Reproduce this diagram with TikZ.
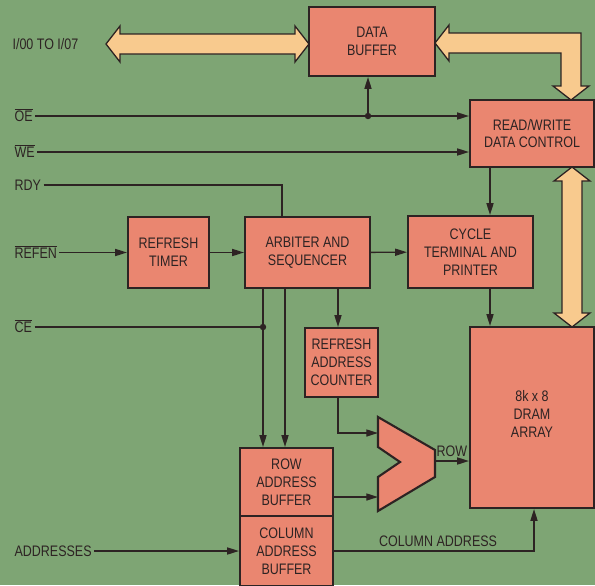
\documentclass[tikz,border=0pt]{standalone}
\usepackage{fontspec}
\setmainfont{Liberation Sans}[FakeStretch=0.82]
\usepackage{tikz}
\usetikzlibrary{arrows.meta, calc}

\definecolor{board}{RGB}{126,165,116}
\definecolor{chip}{RGB}{234,134,112}
\definecolor{busfill}{RGB}{248,202,142}
\definecolor{ink}{RGB}{45,35,35}
\newcommand{\barsig}[1]{$\overline{\mbox{#1}}$}

\begin{document}
\begin{tikzpicture}[
      x=0.03cm, y=-0.03cm,
      font=\fontsize{13}{15.2}\selectfont,
      blk/.style={draw=ink, line width=1.8pt, fill=chip, align=center, text=ink, inner sep=0pt},
      lbl/.style={text=ink, anchor=west, inner sep=2pt, text height=9.5pt, text depth=0pt},
      sig/.style={draw=ink, line width=1.2pt, -{Triangle[length=10pt,width=6pt]}},
      wire/.style={draw=ink, line width=1.2pt},
      bus/.style={draw=ink, line width=1.1pt, fill=busfill, line join=miter},
      dot/.style={circle, fill=ink, inner sep=0pt, minimum size=5.5pt}
    ]
    \fill[board] (0,0) rectangle (595,585);
    \useasboundingbox (0,0) rectangle (595,585);

    % blocks
    \node[blk, minimum width=3.78cm, minimum height=2.07cm] (dbuf) at (372,41.5) {DATA\\BUFFER};
    \node[blk, minimum width=3.72cm, minimum height=2.01cm] (rwc) at (532,133.5) {READ/WRITE\\DATA CONTROL};
    \node[blk, minimum width=2.43cm, minimum height=2.13cm] (rtim) at (168.5,252.5) {REFRESH\\TIMER};
    \node[blk, minimum width=3.75cm, minimum height=2.13cm] (arb) at (307.5,252.5) {ARBITER AND\\SEQUENCER};
    \node[blk, minimum width=3.75cm, minimum height=2.16cm] (cyc) at (470.5,252) {CYCLE\\TERMINAL AND\\PRINTER};
    \node[blk, minimum width=2.19cm, minimum height=2.07cm] (rac) at (341.5,362.5) {REFRESH\\ADDRESS\\COUNTER};
    \node[blk, minimum width=3.72cm, minimum height=5.43cm] (dram) at (532,417.5) {};
    \node[text=ink, align=center] (dramlbl) at (532,414) {8k x 8\\DRAM\\ARRAY};
    \node[blk, minimum width=2.79cm, minimum height=2.04cm] (rowbuf) at (286.5,482) {ROW\\ADDRESS\\BUFFER};
    \node[blk, minimum width=2.79cm, minimum height=2.1cm] (colbuf) at (286.5,551) {COLUMN\\ADDRESS\\BUFFER};

    % multiplexer
    \draw[blk] (378,417) -- (435,450) -- (435,477) -- (378,511) -- (378,477) -- (400,462) -- (378,447) -- cycle;
    \coordinate (muxa) at (378,433);
    \coordinate (muxb) at (378,497);
    \coordinate (muxo) at (435,461);

    % pin names
    \node[lbl] (io) at (10,44) {I/00 TO I/07};
    \node[lbl] (oe) at (12,116) {\barsig{OE}};
    \node[lbl] (we) at (12,152) {\barsig{WE}};
    \node[lbl] (rdy) at (12,185) {RDY};
    \node[lbl] (refen) at (12,252.5) {\barsig{REFEN}};
    \node[lbl] (ce) at (12,327) {\barsig{CE}};
    \node[lbl] (addr) at (12,551) {ADDRESSES};

    % data buses
    \draw[bus] (106,44) -- (120,26) -- (120,34) -- (295,34) -- (295,26) -- (309,44)
      -- (295,62) -- (295,54) -- (120,54) -- (120,62) -- cycle;
    \draw[bus] (435,43) -- (449,25) -- (449,33) -- (581,33) -- (581,86) -- (589,86) -- (571,100)
      -- (553,86) -- (561,86) -- (561,53) -- (449,53) -- (449,61) -- cycle;
    \draw[bus] (572,167) -- (554,181) -- (562,181) -- (562,313) -- (554,313) -- (572,327)
      -- (590,313) -- (582,313) -- (582,181) -- (590,181) -- cycle;

    % control lines
    \coordinate (oej) at (368,116);
    \draw[sig] (oe.east) -- (oe.east -| rwc.west);
    \draw[sig] (oej) -- (oej |- dbuf.south);
    \node[dot] at (oej) {};
    \draw[sig] (we.east) -- (we.east -| rwc.west);
    \draw[wire] (rdy.east) -| ($(arb.north west)+(38,0)$);
    \draw[sig] (refen.east) -- (rtim.west);
    \draw[sig] (rtim) -- (arb);
    \draw[sig] (arb) -- (cyc);
    \draw[sig] (rwc.south -| 490,0) -- (cyc.north -| 490,0);
    \draw[sig] (cyc.south -| 490,0) -- (dram.north -| 490,0);
    \draw[sig] (arb.south -| 338,0) -- (rac.north -| 338,0);
    \draw[sig] (arb.south -| 263,0) -- (rowbuf.north -| 263,0);
    \draw[sig] (arb.south -| 285,0) -- (rowbuf.north -| 285,0);
    \draw[wire] (ce.east) -- (ce.east -| 263,0);
    \node[dot] at (ce.east -| 263,0) {};

    % address paths
    \draw[sig] (rac.south -| 338,0) |- (muxa);
    \draw[sig] (muxb -| rowbuf.east) -- (muxb);
    \draw[sig] (muxo) -- node[above, text=ink, pos=0.5] (rowlbl) {ROW} (muxo -| dram.west);
    \draw[sig] (colbuf.east) -| node[pos=0.26, above, text=ink] (collbl) {COLUMN ADDRESS} (dram.south -| 534,0);
    \draw[sig] (addr.east) -- (colbuf.west);
  \end{tikzpicture}
\end{document}
